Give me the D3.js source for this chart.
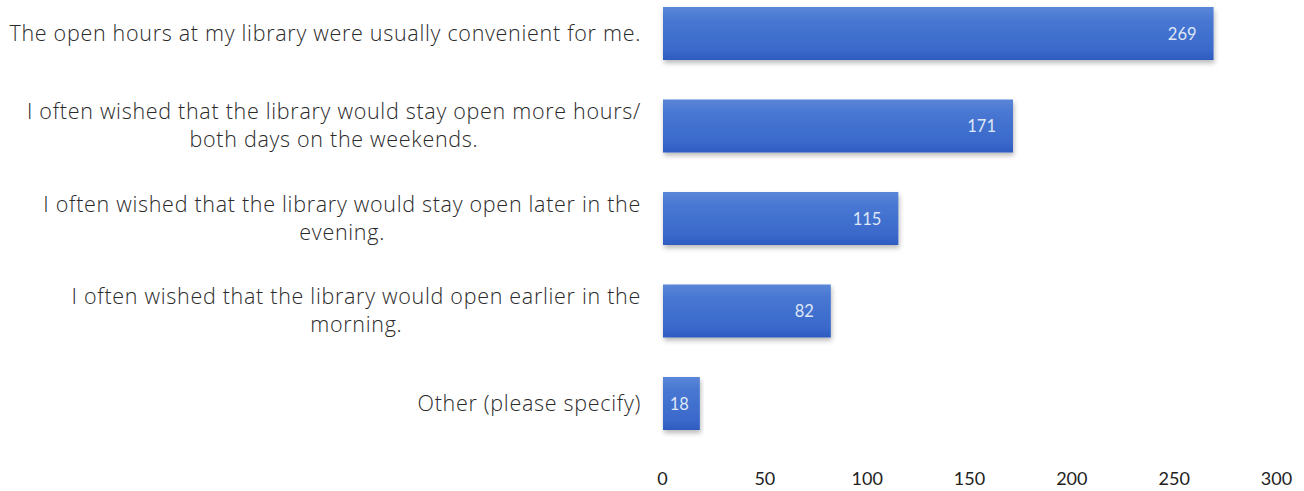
<!DOCTYPE html>
<html><head><meta charset="utf-8">
<script src="https://cdn.jsdelivr.net/npm/d3@7"></script>
<style>
html,body{margin:0;padding:0;background:#fff;}
svg{display:block;}
</style></head>
<body>
<svg id="chart" width="1304" height="491"></svg>
<script>
const categories = [
  "The open hours at my library were usually convenient for me.",
  "I often wished that the library would stay open more hours/\nboth days on the weekends.",
  "I often wished that the library would stay open later in the\nevening.",
  "I often wished that the library would open earlier in the\nmorning.",
  "Other (please specify)"
];
const values = [269, 171, 115, 82, 18];
const xTicks = [0, 50, 100, 150, 200, 250, 300];

const svg = d3.select("#chart");
const font = "Lato, 'Open Sans', sans-serif";
const labelFont = "'Open Sans', sans-serif";

const x = d3.scaleLinear().domain([0, 300]).range([662, 1276]);
const step = 92.5;
const y = d3.scaleBand().domain(categories)
  .range([33.5 - step/2, 403.5 + step/2])
  .paddingInner(0.427).paddingOuter(0.2135);

const defs = svg.append("defs");
const grad = defs.append("linearGradient").attr("id","barGrad")
  .attr("x1",0).attr("y1",0).attr("x2",0).attr("y2",1);
grad.append("stop").attr("offset","0%").attr("stop-color","#5a86d8");
grad.append("stop").attr("offset","25%").attr("stop-color","#4877d2");
grad.append("stop").attr("offset","80%").attr("stop-color","#3a69cb");
grad.append("stop").attr("offset","100%").attr("stop-color","#2e5bc0");
const f = defs.append("filter").attr("id","shadow").attr("x","-5%").attr("y","-20%").attr("width","115%").attr("height","150%");
f.append("feDropShadow").attr("dx",1).attr("dy",3).attr("stdDeviation",2.5).attr("flood-color","#000").attr("flood-opacity",0.28);

// bars
svg.append("g").selectAll("rect").data(values).join("rect")
  .attr("x", x(0) + 1)
  .attr("y", (d,i) => y(categories[i]))
  .attr("width", d => x(d) - x(0))
  .attr("height", y.bandwidth())
  .attr("fill", "url(#barGrad)")
  .attr("filter", "url(#shadow)");

// value labels
svg.append("g").selectAll("text").data(values).join("text")
  .attr("x", d => x(d) - (d < 30 ? 10 : 16))
  .attr("y", (d,i) => y(categories[i]) + y.bandwidth()/2 + 6)
  .attr("text-anchor","end")
  .attr("font-family", font)
  .attr("font-size", 16.5)
  .attr("fill", "#dfe7f7")
  .text(d => d);

// category labels
const labelG = svg.append("g");
categories.forEach((c) => {
  const lines = c.split("\n");
  const cy = y(c) + y.bandwidth()/2;
  const t = labelG.append("text")
    .attr("font-family", labelFont)
    .attr("font-size", 21.5)
    .attr("font-weight", 300)
    .attr("letter-spacing", 0.7)
    .attr("fill", "#2a2a2a");
  const spans = lines.map((ln, j) => t.append("tspan").text(ln)
      .attr("y", cy + 7 + (j - (lines.length-1)/2) * 28));
  let maxW = 0;
  spans.forEach(s => { maxW = Math.max(maxW, s.node().getComputedTextLength()); });
  spans.forEach(s => s.attr("x", 641 - maxW/2).attr("text-anchor","middle"));
});

// x axis
const xAxis = d3.axisBottom(x).tickValues(xTicks).tickSize(0).tickPadding(0);
const ax = svg.append("g").attr("transform","translate(0,472)").call(xAxis);
ax.select(".domain").remove();
ax.selectAll("text").attr("font-family", font).attr("font-size", 18).attr("fill","#222");
</script>
</body></html>
